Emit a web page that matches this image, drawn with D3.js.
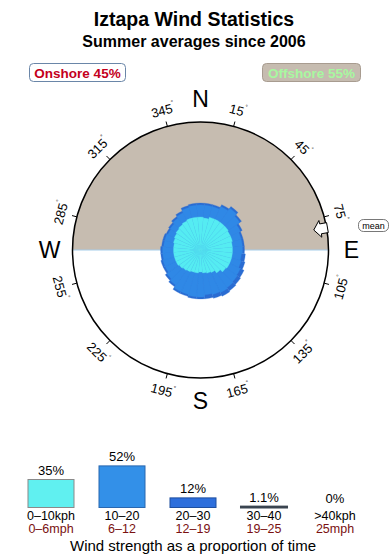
<!DOCTYPE html>
<html lang="en">
<head>
<meta charset="UTF-8">
<title>Iztapa Wind Statistics</title>
<script src="https://cdnjs.cloudflare.com/ajax/libs/d3/7.6.1/d3.min.js"></script>
<style>
  body { margin: 0; background: #fff; }
  svg { display: block; font-family: "Liberation Sans", Arial, sans-serif; }
</style>
</head>
<body>
<svg id="chart" width="390" height="560"></svg>
<script>
// wind directions (deg, 10 deg sectors)
const directions = d3.range(0, 360, 10);

// % of time per sector, per speed band
const band0_10 = [1.21, 1.14, 1.28, 1.28, 1.28, 1.28, 1.21, 1.21, 1.14, 1.14, 1.14, 1.14,
                  1.14, 1.07, 0.87, 0.69, 0.64, 0.59, 0.54, 0.59, 0.59, 0.64, 0.69, 0.75,
                  0.81, 0.81, 0.81, 0.81, 0.81, 0.87, 0.93, 1.00, 1.07, 1.14, 1.21, 1.21];
const band10_20 = [1.04, 1.11, 0.97, 1.28, 1.61, 1.28, 0.94, 0.75, 0.82, 0.82, 0.73, 0.82,
                   1.01, 1.18, 1.48, 1.76, 1.71, 1.66, 1.91, 1.86, 1.76, 1.71, 1.36, 1.12,
                   0.88, 0.88, 0.79, 0.79, 0.71, 0.65, 0.51, 0.52, 0.62, 0.73, 0.94, 1.04];
const band20_30 = [0.20, 0.20, 0.20, 0.22, 0.23, 0.22, 0.20, 0.19, 0.19, 0.19, 0.38, 0.39,
                   0.41, 0.42, 0.43, 0.44, 0.43, 0.42, 0.21, 0.21, 0.21, 0.21, 0.20, 0.19,
                   0.18, 0.18, 0.17, 0.17, 0.17, 0.17, 0.16, 0.17, 0.18, 0.19, 0.20, 0.20];

// overall strength distribution
const speedKph = ["0\u201310kph", "10\u201320", "20\u201330", "30\u201340", ">40kph"];
const speedMph = ["0\u20136mph", "6\u201312", "12\u201319", "19\u201325", "25mph"];
const speedPct = [35, 52, 12, 1.1, 0];
const speedPctLabels = ["35%", "52%", "12%", "1.1%", "0%"];

const degreeTicks = [15, 45, 75, 105, 135, 165, 195, 225, 255, 285, 315, 345];
const cardinals = [["N", 0], ["E", 90], ["S", 180], ["W", 270]];
const onshorePct = 45, offshorePct = 55;
const offshoreFrom = 270, offshoreTo = 90;   // offshore sector, clockwise
const meanDir = 80;

const svg = d3.select("#chart");
const cx = 200.5, cy = 250, R = 128;
const rad = d => d * Math.PI / 180;
const pol = (r, b) => [cx + r * Math.sin(rad(b)), cy - r * Math.cos(rad(b))];

// titles
svg.append("text").attr("x", 194).attr("y", 26).attr("text-anchor", "middle")
  .attr("font-size", 19.5).attr("font-weight", "bold").text("Iztapa Wind Statistics");
svg.append("text").attr("x", 194).attr("y", 46.5).attr("text-anchor", "middle")
  .attr("font-size", 16).attr("font-weight", "bold").text("Summer averages since 2006");

// onshore / offshore boxes
svg.append("rect").attr("x", 29.5).attr("y", 63.5).attr("width", 96).attr("height", 18).attr("rx", 4)
  .attr("fill", "#fff").attr("stroke", "#6a86a8");
svg.append("text").attr("x", 77.5).attr("y", 77.5).attr("text-anchor", "middle")
  .attr("font-size", 13.5).attr("font-weight", "bold").attr("fill", "#c4001c")
  .text("Onshore " + onshorePct + "%");
svg.append("rect").attr("x", 262.5).attr("y", 63.5).attr("width", 98).attr("height", 18).attr("rx", 4)
  .attr("fill", "#c6bcb0").attr("stroke", "#a89c90");
svg.append("text").attr("x", 311.5).attr("y", 77.5).attr("text-anchor", "middle")
  .attr("font-size", 13.5).attr("font-weight", "bold").attr("fill", "#a8f8a0")
  .text("Offshore " + offshorePct + "%");

const g = svg.append("g").attr("transform", `translate(${cx},${cy})`);

// offshore half
g.append("path")
  .attr("d", d3.arc()({innerRadius: 0, outerRadius: R,
    startAngle: rad(offshoreFrom - 360), endAngle: rad(offshoreTo)}))
  .attr("fill", "#c6bcb0");

// shore line
g.append("line").attr("x1", -R).attr("x2", R).attr("y1", 0).attr("y2", 0)
  .attr("stroke", "#a6cdea").attr("stroke-width", 1);

// rose (area-proportional radius)
const rScale = d3.scaleSqrt().domain([0, 1]).range([0, 30]);
const bands = [band0_10, band10_20, band20_30];
const roseColors = ["#55ecf2", "#2f88e6", "#2a6cd2"];
const roseStroke = ["#5ae2ee", "#2f88e6", "#2a6cd2"];
const stacked = directions.map((d, i) => {
  let cum = 0;
  return bands.map((b, k) => {
    const inner = cum; cum += b[i];
    return {dir: d, k: k, inner: inner, outer: cum};
  });
});
const arc = d3.arc()
  .innerRadius(s => rScale(s.inner))
  .outerRadius(s => rScale(s.outer))
  .startAngle(s => rad(s.dir - 5))
  .endAngle(s => rad(s.dir + 5));
[2, 1, 0].forEach(k => {
  g.append("g").selectAll("path")
    .data(stacked.map(s => s[k]))
    .join("path")
    .attr("d", s => arc({...s, inner: 0}))
    .attr("fill", roseColors[k])
    .attr("stroke", roseStroke[k])
    .attr("stroke-width", 0.3);
});

// outline
g.append("circle").attr("r", R).attr("fill", "none").attr("stroke", "#000").attr("stroke-width", 1.5);

// ticks and degree labels
g.selectAll(".tick").data(degreeTicks).join("line")
  .attr("x1", d => R * Math.sin(rad(d))).attr("y1", d => -R * Math.cos(rad(d)))
  .attr("x2", d => (R + 5) * Math.sin(rad(d))).attr("y2", d => -(R + 5) * Math.cos(rad(d)))
  .attr("stroke", "#000").attr("stroke-width", 1);
const dl = g.selectAll(".deg").data(degreeTicks).join("text")
  .attr("font-size", 13).attr("text-anchor", "middle").attr("dominant-baseline", "central")
  .attr("transform", d => {
    const x = 145 * Math.sin(rad(d)), y = -145 * Math.cos(rad(d));
    const rot = (d > 90 && d < 270) ? d - 180 : (d > 180 ? d - 360 : d);
    return `translate(${x},${y}) rotate(${rot})`;
  });
dl.append("tspan").text(d => d);
dl.append("tspan").attr("font-size", 6).attr("dy", -5).text("\u00b0");

// cardinal letters
g.selectAll(".card").data(cardinals).join("text")
  .attr("x", d => 151 * Math.sin(rad(d[1]))).attr("y", d => -151 * Math.cos(rad(d[1])))
  .attr("text-anchor", "middle").attr("dominant-baseline", "central")
  .attr("font-size", 23).text(d => d[0]);

// mean direction arrow
const hw = 8.5, sw = 5;
const arrowPts = [
  pol(115, meanDir),
  pol(122, meanDir - hw / 122 * 180 / Math.PI),
  pol(122, meanDir - sw / 122 * 180 / Math.PI),
  pol(R + 1, meanDir - sw / R * 180 / Math.PI),
  pol(R + 1, meanDir + sw / R * 180 / Math.PI),
  pol(122, meanDir + sw / 122 * 180 / Math.PI),
  pol(122, meanDir + hw / 122 * 180 / Math.PI)
];
svg.append("path").attr("d", d3.line()(arrowPts) + "Z")
  .attr("fill", "#fff").attr("stroke", "#000").attr("stroke-width", 1);
svg.append("rect").attr("x", 358.5).attr("y", 219.5).attr("width", 30).attr("height", 12).attr("rx", 5)
  .attr("fill", "#fff").attr("stroke", "#555").attr("stroke-width", 0.8);
svg.append("text").attr("x", 373.5).attr("y", 228.5).attr("text-anchor", "middle")
  .attr("font-size", 9).text("mean");

// strength bars
const x = d3.scaleBand().domain(speedKph).range([15.5, 370.5]).paddingInner(0.352).paddingOuter(0.176);
const h = d3.scaleLinear().domain([0, 100]).range([0, 80]);
const base = 507.5;
const barFill = ["#60f0f0", "#3390e8", "#2e6fdc", "#3a4450", "#999"];
const barStroke = ["#8a8a8a", "#2a68b0", "#1f4fa0", "#3a4450", "#999"];
const bars = svg.append("g");
bars.selectAll("rect").data(speedPct).join("rect")
  .attr("x", (d, i) => x(speedKph[i]))
  .attr("y", d => base - h(d))
  .attr("width", x.bandwidth())
  .attr("height", d => h(d))
  .attr("fill", (d, i) => barFill[i])
  .attr("stroke", (d, i) => barStroke[i])
  .attr("stroke-width", (d, i) => i === 3 ? 2 : 1);
bars.selectAll(".pct").data(speedPct).join("text")
  .attr("x", (d, i) => x(speedKph[i]) + x.bandwidth() / 2)
  .attr("y", d => base - h(d) - 5)
  .attr("text-anchor", "middle").attr("font-size", 13)
  .text((d, i) => speedPctLabels[i]);
bars.selectAll(".kph").data(speedKph).join("text")
  .attr("x", d => x(d) + x.bandwidth() / 2).attr("y", 520)
  .attr("text-anchor", "middle").attr("font-size", 12.5).text(d => d);
bars.selectAll(".mph").data(speedMph).join("text")
  .attr("x", (d, i) => x(speedKph[i]) + x.bandwidth() / 2).attr("y", 532.5)
  .attr("text-anchor", "middle").attr("font-size", 12.5)
  .attr("fill", "#7a1010").text(d => d);
svg.append("text").attr("x", 193).attr("y", 551).attr("text-anchor", "middle")
  .attr("font-size", 15).text("Wind strength as a proportion of time");
</script>
</body>
</html>
